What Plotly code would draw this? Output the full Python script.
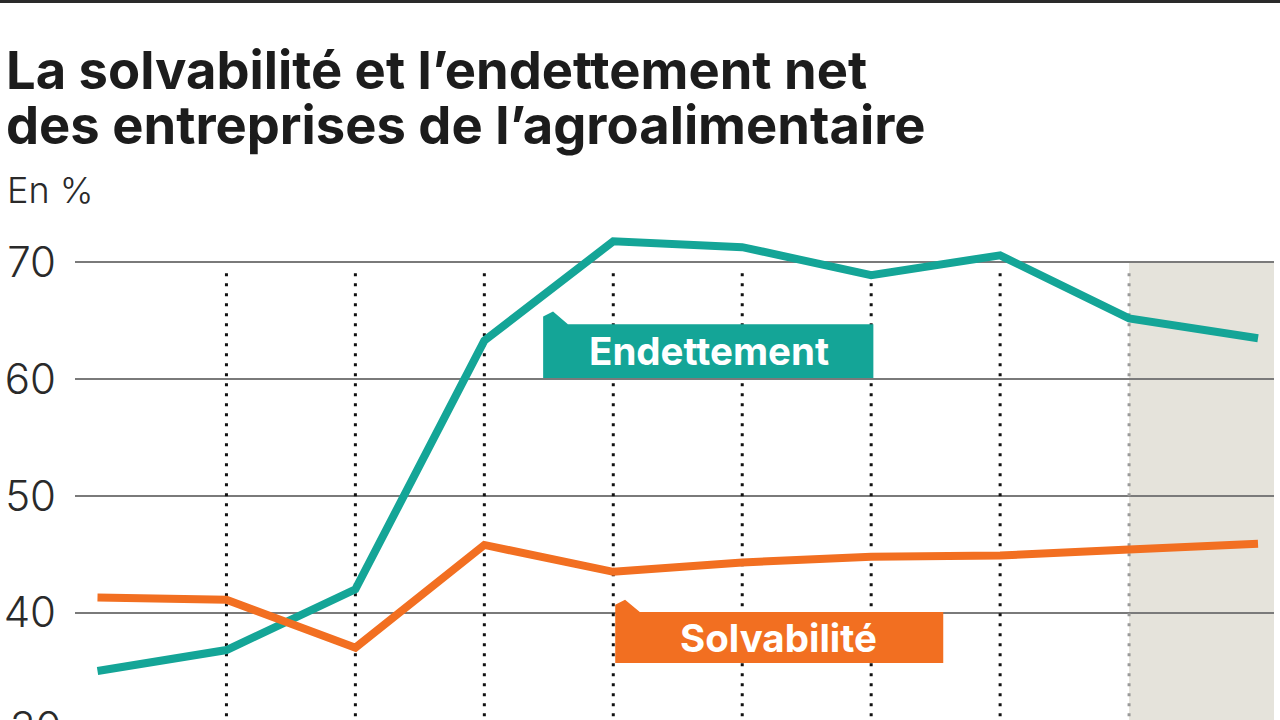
import plotly.graph_objects as go

# periods (no labels shown on the original chart), last one shaded
periodes = [1, 2, 3, 4, 5, 6, 7, 8, 9, 10]
endettement = [35.0, 36.8, 42.0, 63.3, 71.8, 71.3, 68.9, 70.6, 65.2, 63.5]
solvabilite = [41.3, 41.1, 37.0, 45.8, 43.5, 44.3, 44.8, 44.9, 45.4, 45.9]
y_ticks = [40, 50, 60, 70]

TEAL = "#14a597"
ORANGE = "#f26f21"
INK = "#1c1c1c"

W, H = 1280, 720
L, R, T, B = 75, 6, 230, 0
PW, PH = W - L - R, H - T - B


def px(x):
    return (x - L) / PW


def py(y):
    return (H - B - y) / PH


fig = go.Figure()

fig.add_trace(go.Scatter(x=periodes, y=endettement, mode="lines",
                         line=dict(color=TEAL, width=8), hoverinfo="skip"))
fig.add_trace(go.Scatter(x=periodes, y=solvabilite, mode="lines",
                         line=dict(color=ORANGE, width=8), hoverinfo="skip"))

shapes = []
# shaded last period
shapes.append(dict(type="rect", xref="x", yref="y", x0=periodes[-2], x1=periodes[-1] + 0.2,
                   y0=20, y1=70, fillcolor="#e5e3db", line_width=0, layer="below"))
# dotted separators
for i, p in enumerate(periodes[1:-1]):
    shapes.append(dict(type="line", xref="x", yref="y", x0=p, x1=p, y0=20, y1=69.4,
                       line=dict(color="#999999" if i == len(periodes) - 3 else "#111111",
                                 width=3, dash="3px,7px"),
                       layer="between"))


def tag(x0, x1, y0, y1, ny, color):
    # box with small notch at the top-left corner
    w = x1 - x0
    path = (f"M{x0},{y0} L{x0},{y1 + (ny - y1) * 0.6} L{x0 + w * 0.03},{ny} "
            f"L{x0 + w * 0.075},{y1} L{x1},{y1} L{x1},{y0} Z")
    return dict(type="path", xref="x", yref="y", path=path, fillcolor=color,
                line_width=0, layer="above")


shapes.append(tag(4.456, 7.017, 60.1, 64.7, 65.8, TEAL))
shapes.append(tag(5.015, 7.559, 35.7, 40.05, 41.1, ORANGE))
# black rule on top
shapes.append(dict(type="line", xref="paper", yref="paper", x0=px(0), x1=px(W),
                   y0=py(1.5), y1=py(1.5), line=dict(color="#2a2a2a", width=3)))

annotations = [
    dict(text="La solvabilité et l’endettement net", x=px(4), y=py(70),
         font=dict(family="Inter", size=52.5, color=INK, weight=700)),
    dict(text="des entreprises de l’agroalimentaire", x=px(4), y=py(125),
         font=dict(family="Inter", size=52.5, color=INK, weight=700)),
    dict(text="En %", x=px(5), y=py(190),
         font=dict(family="Inter", size=36, color="#2a2a2a", weight=300)),
    dict(text="30", x=px(8), y=py(726),
         font=dict(family="Inter", size=42, color="#2a2a2a", weight=300)),
    dict(text="<b>Endettement</b>", xref="x", yref="y", x=5.74, y=62.4, xanchor="center",
         font=dict(family="Inter", size=38.5, color="white")),
    dict(text="<b>Solvabilité</b>", xref="x", yref="y", x=6.28, y=37.8, xanchor="center",
         font=dict(family="Inter", size=38.5, color="white")),
]
for a in annotations:
    a.setdefault("xref", "paper")
    a.setdefault("yref", "paper")
    a.setdefault("xanchor", "left")
    a.setdefault("yanchor", "middle")
    a["showarrow"] = False

fig.update_layout(
    width=W, height=H,
    margin=dict(l=L, r=R, t=T, b=B),
    paper_bgcolor="white",
    plot_bgcolor="white",
    showlegend=False,
    shapes=shapes,
    annotations=annotations,
    xaxis=dict(range=[0.8255, 10.124], showticklabels=False, showgrid=False,
               zeroline=False, showline=False, fixedrange=True),
    yaxis=dict(range=[30.81, 72.77], tickvals=y_ticks, showgrid=True,
               gridcolor="#7a7a7a", gridwidth=2, zeroline=False, showline=False,
               ticklabelstandoff=18, fixedrange=True,
               tickfont=dict(family="Inter", size=42, color="#2a2a2a", weight=300)),
)

fig.write_html("out.html", config={"displayModeBar": False},
               post_script="document.body.style.margin='0';")
